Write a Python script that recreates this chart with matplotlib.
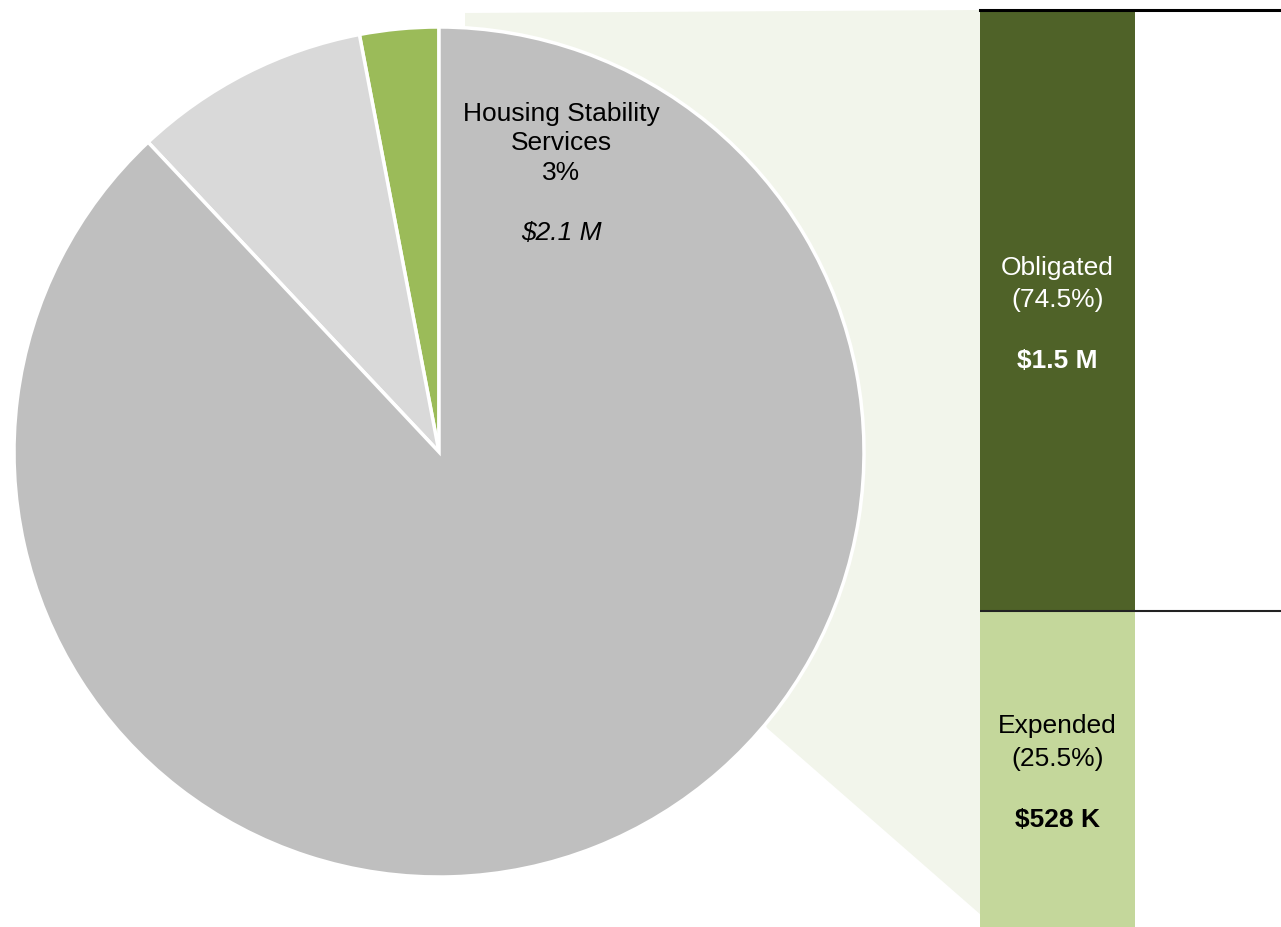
import matplotlib.pyplot as plt
from matplotlib.patches import Polygon

plt.rcParams['font.family'] = ['Liberation Sans', 'DejaVu Sans']

# Dati della torta (quota del totale, in %)
pie_shares = [3, 9, 88]
pie_colors = ["#9bbb59", "#d9d9d9", "#bfbfbf"]
pie_label = "Housing Stability\nServices\n3%"
pie_amount = "$2.1 M"

# Dati della barra (ripartizione dei fondi Housing Stability)
bar_names = ["Expended", "Obligated"]
bar_shares = [25.5, 74.5]
bar_amounts = ["$528 K", "$1.5 M"]
bar_colors = ["#c4d79b", "#4f6228"]
bar_text_colors = ["black", "white"]

W, H = 1281, 927
fig = plt.figure(figsize=(W / 100, H / 100), dpi=100)

# Poligono di raccordo (sfondo)
ax_bg = fig.add_axes([0, 0, 1, 1])
ax_bg.set_xlim(0, W)
ax_bg.set_ylim(H, 0)
ax_bg.axis("off")
ax_bg.add_patch(Polygon([(465, 13), (981, 10), (981, 915), (767, 728), (465, 45)],
                        closed=True, facecolor="#f2f5eb", edgecolor="none"))

# Torta
cx, cy, r = 439, 452, 425
ax_pie = fig.add_axes([(cx - r) / W, (H - cy - r) / H, 2 * r / W, 2 * r / H])
ax_pie.pie(pie_shares, colors=pie_colors, startangle=90, counterclock=True,
           wedgeprops=dict(edgecolor="white", linewidth=2.5))
ax_pie.set_xlim(-1, 1)
ax_pie.set_ylim(-1, 1)
ax_pie.text(0.287, 0.726, pie_label, ha="center", va="center",
            fontsize=19, linespacing=1.29)
ax_pie.text(0.287, 0.515, pie_amount, ha="center", va="center",
            fontsize=19, style="italic")

# Barra impilata
ax_bar = fig.add_axes([980 / W, 0, (W - 980) / W, (H - 10) / H])
bar_w = 155 / 301
bottom = 0
y_top = 74.0
for name, share, amount, col, tcol in zip(bar_names, bar_shares, bar_amounts,
                                          bar_colors, bar_text_colors):
    ax_bar.bar(0, share, width=bar_w, bottom=bottom, align="edge", color=col)
    mid = (bottom + min(bottom + share, y_top)) / 2
    ax_bar.annotate(f"{name}\n({share}%)", (bar_w / 2, mid), xytext=(0, 19),
                    textcoords="offset points", ha="center", va="center",
                    fontsize=19, color=tcol, linespacing=1.45)
    ax_bar.annotate(amount, (bar_w / 2, mid), xytext=(0, -36.5),
                    textcoords="offset points", ha="center", va="center",
                    fontsize=19, color=tcol, fontweight="bold")
    bottom += share
ax_bar.axhline(bar_shares[0], color="#222222", linewidth=1.5)
ax_bar.set_xlim(0, 1)
ax_bar.set_ylim(0, y_top)
ax_bar.set_xticks([])
ax_bar.set_yticks([])
for s in ["left", "right", "bottom"]:
    ax_bar.spines[s].set_visible(False)
ax_bar.spines["top"].set_linewidth(2.2)
ax_bar.patch.set_alpha(0)

plt.savefig("out.png", dpi=100)
